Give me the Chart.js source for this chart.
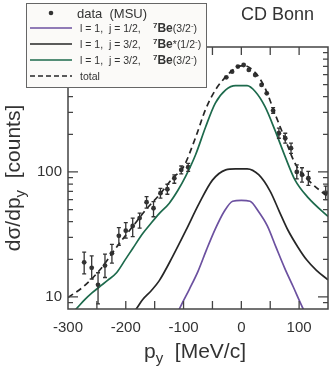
<!DOCTYPE html>
<html><head><meta charset="utf-8">
<script src="https://cdn.jsdelivr.net/npm/chart.js@4.4.0/dist/chart.umd.min.js"></script>
<style>html,body{margin:0;padding:0;background:#fff}#wrap{width:332px;height:370px;position:relative}</style>
</head><body><div id="wrap"><canvas id="c" width="332" height="370"></canvas></div>
<script>
// ---- data ----
const dataX  = [-272,-259,-248,-236,-224,-212,-200,-188,-176,-164,-152,-140,-128,-116,-104,-92,-26,-16,-6,4,13,24,35,44,55,65,76,86,96,105,116,146];
const dataY  = [18.9,17.1,12.5,17.8,22.3,30.8,33.9,37,42.7,57.3,51.2,67.6,72.7,89,103.8,109,572,635,697,718,655,597,497,426,310,204,186,155,100,95,89,68];
const dataLo = [15.3,13.9,8.8,14.3,18.6,25.9,29.5,30.4,35.5,51.3,43.8,61.7,66.3,81.2,96.6,101,550,610,670,690,630,574,478,410,294,186,170,141,88,83,78,60];
const dataHi = [22.8,21.3,15.6,22,26.3,35.8,39.3,42.7,46.8,63.4,57.8,74,79.7,94.6,111.6,117,595,660,725,746,680,620,516,443,327,224,204,170,114,108,101,77];

const purpleX = [-116,-104,-90,-75,-60,-45,-30,-15,0,15,30,45,60,75,90,104,116];
const purpleY = [6.6,8.6,11.5,16,24,35,48,58.3,59.3,58.3,48,37,25,17,12,8.6,6.6];

const blackX = [-192,-182,-171,-156,-142,-119,-96,-73,-50,-27,-10,10,30,50,66,81,98,113,130,150];
const blackY = [7.2,8,9.5,11.2,13.5,21,34,56,86,104,106,106,95,70,48,34,25,19.8,16.3,13.7];

const greenX = [-300,-286,-271,-258,-245,-231,-216,-202,-188,-171,-156,-141,-125,-110,-96,-79,-62,-45,-27,-10,10,24,41,58,76,93,116,150];
const greenY = [6.9,8,9.5,10.8,12.1,13.6,15.6,19.5,24.4,32,39,47,56,71,93,138,228,355,453,490,490,440,333,217,132,86,62,44];

const totalX = [-300,-274,-245,-216,-188,-165,-142,-119,-100,-79,-62,-45,-27,-10,4,24,41,58,76,93,116,150];
const totalY = [9.9,12,16.4,25,36.6,50,65.5,89,110,190,316,452,577,680,710,625,470,294,182,117,86,63];

const xTickLabels = [-300,-200,-100,0,100];
const yTickLabels = [10,100];
const xMinorTicks = [-250,-200,-150,-100,-50,0,50,100];
const yMinorTicks = [9,20,30,40,50,60,70,80,90,200,300,400,500,600,700,800,900];

const legendLabels = ['data  (MSU)','l = 1,  j = 1/2,','l = 1,  j = 3/2,','l = 1,  j = 3/2,','total'];

const FONT = '"Liberation Sans", Arial, Helvetica, sans-serif';
const C_PURPLE = '#6c51a0', C_BLACK = '#262626', C_GREEN = '#1d6a4c', C_DATA = '#333333', C_AXIS = '#444444';

function pts(xs, ys){ return xs.map((x,i)=>({x:x, y:ys[i]})); }

function drawRuns(ctx, runs, x, y, align){
  let w = 0;
  runs.forEach(r=>{ ctx.font = r.font; w += ctx.measureText(r.t).width; });
  let cx = align==='center' ? x - w/2 : x;
  runs.forEach(r=>{ ctx.font = r.font; ctx.fillText(r.t, cx, y + (r.dy||0)); cx += ctx.measureText(r.t).width; });
}

const deco = {
  id:'deco',
  afterDatasetsDraw(chart){
    const {ctx, chartArea:a, scales:{x,y}} = chart;
    ctx.save();
    ctx.beginPath(); ctx.rect(a.left, a.top, a.right-a.left, a.bottom-a.top); ctx.clip();
    ctx.strokeStyle = C_DATA; ctx.lineWidth = 1.3;
    ctx.beginPath();
    for(let i=0;i<dataX.length;i++){
      const px = x.getPixelForValue(dataX[i]);
      const pl = y.getPixelForValue(dataLo[i]);
      const ph = y.getPixelForValue(dataHi[i]);
      if (pl - ph < 5) continue;
      ctx.moveTo(px, pl); ctx.lineTo(px, ph);
      ctx.moveTo(px-2, pl); ctx.lineTo(px+2, pl);
      ctx.moveTo(px-2, ph); ctx.lineTo(px+2, ph);
    }
    ctx.stroke();
    ctx.restore();
  },
  afterDraw(chart){
    const {ctx, chartArea:a, scales:{x,y}} = chart;
    ctx.save();
    // frame
    ctx.strokeStyle = C_AXIS; ctx.lineWidth = 1.5;
    ctx.strokeRect(a.left, a.top, a.right-a.left, a.bottom-a.top);
    ctx.beginPath();
    ctx.lineWidth = 1.3;
    xMinorTicks.forEach(v=>{
      const px = x.getPixelForValue(v);
      ctx.moveTo(px, a.bottom); ctx.lineTo(px, a.bottom-8);
      ctx.moveTo(px, a.top); ctx.lineTo(px, a.top+8);
    });
    yMinorTicks.forEach(v=>{
      const py = y.getPixelForValue(v);
      ctx.moveTo(a.left, py); ctx.lineTo(a.left+5, py);
      ctx.moveTo(a.right, py); ctx.lineTo(a.right-5, py);
    });
    yTickLabels.forEach(v=>{
      const py = y.getPixelForValue(v);
      ctx.moveTo(a.left, py); ctx.lineTo(a.left+10, py);
      ctx.moveTo(a.right, py); ctx.lineTo(a.right-10, py);
    });
    ctx.stroke();

    // axis titles
    ctx.fillStyle = '#333';
    ctx.textBaseline = 'alphabetic';
    drawRuns(ctx, [
      {t:'p', font:'21px '+FONT},
      {t:'y', font:'15px '+FONT, dy:5},
      {t:'  [MeV/c]', font:'21px '+FONT}
    ], 195, 358, 'center');
    ctx.save();
    ctx.translate(20, (a.top+a.bottom)/2);
    ctx.rotate(-Math.PI/2);
    drawRuns(ctx, [
      {t:'d\u03c3/dp', font:'21px '+FONT},
      {t:'y', font:'15px '+FONT, dy:5},
      {t:'  [counts]', font:'21px '+FONT}
    ], 0, 0, 'center');
    ctx.restore();

    // CD Bonn
    ctx.font = '18px '+FONT;
    ctx.fillText('CD Bonn', 241, 20);

    // legend
    ctx.fillStyle = '#fbfaf8';
    ctx.fillRect(26, 3, 181, 85);
    ctx.strokeStyle = '#666'; ctx.lineWidth = 1;
    ctx.strokeRect(26.5, 3.5, 180, 84);
    ctx.fillStyle = C_DATA;
    ctx.beginPath(); ctx.arc(51, 13, 2.3, 0, Math.PI*2); ctx.fill();
    const lines = [[C_PURPLE,28,[]],[C_BLACK,44,[]],[C_GREEN,60,[]],[C_BLACK,76,[5,3]]];
    lines.forEach(l=>{
      ctx.strokeStyle = l[0]; ctx.lineWidth = 1.6; ctx.setLineDash(l[2]);
      ctx.beginPath(); ctx.moveTo(30, l[1]); ctx.lineTo(72, l[1]); ctx.stroke();
    });
    ctx.setLineDash([]);
    ctx.fillStyle = '#333';
    ctx.font = '13px '+FONT; ctx.fillText(legendLabels[0], 77, 18);
    const small = '10.5px '+FONT, sup = 'bold 8px '+FONT, bold = 'bold 12px '+FONT, supn = '8px '+FONT;
    ctx.font = small;
    ctx.fillText(legendLabels[1], 80, 32);
    ctx.fillText(legendLabels[2], 80, 48);
    ctx.fillText(legendLabels[3], 80, 64);
    ctx.fillText(legendLabels[4], 80, 80);
    drawRuns(ctx, [{t:'7',font:sup,dy:-4},{t:'Be',font:bold},{t:'(3/2',font:small},{t:'-',font:supn,dy:-4},{t:')',font:small}], 153, 32);
    drawRuns(ctx, [{t:'7',font:sup,dy:-4},{t:'Be',font:bold},{t:'*',font:small},{t:'(1/2',font:small},{t:'-',font:supn,dy:-4},{t:')',font:small}], 153, 48);
    drawRuns(ctx, [{t:'7',font:sup,dy:-4},{t:'Be',font:bold},{t:'(3/2',font:small},{t:'-',font:supn,dy:-4},{t:')',font:small}], 153, 64);
    ctx.restore();
  }
};

const curve = (xs, ys, color, dash) => ({
  type:'line', data: pts(xs, ys), borderColor: color, borderWidth: 1.7, borderDash: dash || [],
  pointRadius: 0, showLine: true, fill: false, cubicInterpolationMode: 'monotone'
});

new Chart(document.getElementById('c'), {
  type: 'scatter',
  data: { datasets: [
    curve(purpleX, purpleY, C_PURPLE),
    curve(blackX, blackY, C_BLACK),
    curve(greenX, greenY, C_GREEN),
    curve(totalX, totalY, C_BLACK, [6,4]),
    { type:'scatter', data: pts(dataX, dataY), pointRadius: 2.4, pointStyle:'circle',
      backgroundColor: C_DATA, borderColor: C_DATA, borderWidth: 0, showLine:false }
  ]},
  options: {
    responsive: false, animation: false, devicePixelRatio: 1,
    layout: { padding: { top: 47, right: 2, left: 0, bottom: 0 } },
    plugins: { legend: { display:false }, tooltip: { enabled:false } },
    scales: {
      x: { type:'linear', min:-300, max:150,
        afterFit(s){ s.height = 61; },
        afterBuildTicks(s){ s.ticks = xTickLabels.map(v=>({value:v})); },
        grid: { display:false, drawTicks:false }, border: { display:false },
        ticks: { font:{ size:15, family:FONT }, color:'#333', padding:10, maxRotation:0, autoSkip:false,
          callback: v => String(v) } },
      y: { type:'logarithmic', min:8, max:1000,
        afterFit(s){ s.width = 68; },
        afterBuildTicks(s){ s.ticks = yTickLabels.map(v=>({value:v})); },
        grid: { display:false, drawTicks:false }, border: { display:false },
        ticks: { font:{ size:15, family:FONT }, color:'#333', padding:6, autoSkip:false,
          callback: v => String(v) } }
    }
  },
  plugins: [deco]
});
</script></body></html>
